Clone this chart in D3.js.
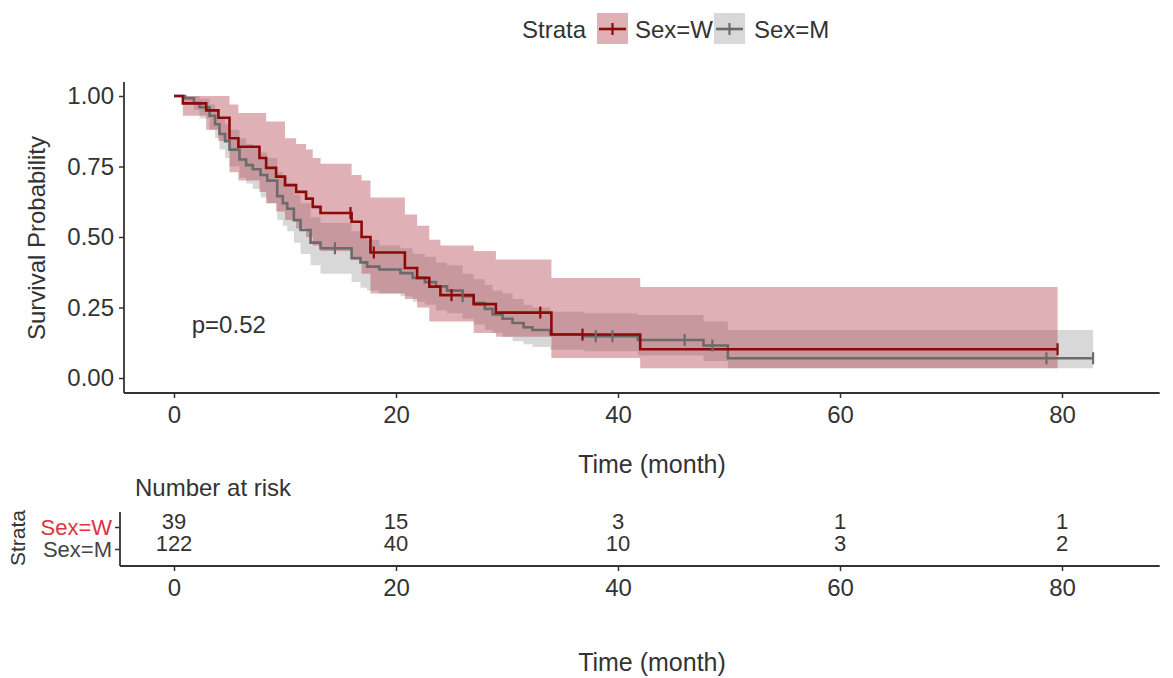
<!DOCTYPE html>
<html>
<head>
<meta charset="utf-8">
<script src="https://cdn.jsdelivr.net/npm/d3@7"></script>
<style>
  body { margin: 0; background: #fff; }
  svg { font-family: "Liberation Sans", Arial, sans-serif; }
</style>
</head>
<body>
<svg></svg>
<script>
// survival curve for Sex=W (time in months, probability after the step)
let wTime  = [0, 0.8, 2.9, 4.0, 5.0, 5.8, 7.7, 8.3, 9.2, 10.0, 11.0, 11.9, 12.5, 13.2, 16.0, 16.9, 17.7, 20.8, 21.9, 23.0, 24.0, 27.0, 29.0, 34.0, 42.0, 79.6];
let wSurv  = [1.00, 0.974, 0.949, 0.923, 0.85, 0.82, 0.78, 0.745, 0.714, 0.684, 0.66, 0.636, 0.607, 0.585, 0.554, 0.50, 0.445, 0.39, 0.355, 0.324, 0.294, 0.262, 0.232, 0.154, 0.102, 0.102];
let wUpper = [1.00, 1.00, 1.00, 1.00, 0.97, 0.94, 0.94, 0.91, 0.91, 0.85, 0.83, 0.81, 0.78, 0.76, 0.72, 0.70, 0.64, 0.58, 0.54, 0.49, 0.47, 0.45, 0.42, 0.355, 0.323, 0.323];
let wLower = [1.00, 0.93, 0.88, 0.84, 0.73, 0.70, 0.66, 0.62, 0.59, 0.56, 0.53, 0.50, 0.47, 0.45, 0.42, 0.37, 0.30, 0.28, 0.25, 0.20, 0.20, 0.16, 0.146, 0.071, 0.035, 0.035];
let wCensor = [15.9, 18.0, 25.0, 33.0, 36.8, 79.6];

// survival curve for Sex=M
let mTime  = [0, 1.0, 1.8, 2.3, 3.2, 3.7, 4.1, 4.6, 5.0, 5.9, 6.5, 7.1, 7.8, 8.4, 9.3, 9.8, 10.2, 10.8, 11.4, 12.3, 13.2, 16.0, 16.8, 17.4, 18.5, 20.4, 21.5, 22.6, 23.6, 24.6, 26.0, 27.0, 28.0, 28.7, 29.6, 30.5, 31.5, 32.3, 33.9, 37.0, 41.8, 47.7, 49.9, 82.8];
let mSurv  = [1.0, 0.992, 0.975, 0.96, 0.93, 0.90, 0.865, 0.84, 0.81, 0.775, 0.755, 0.74, 0.72, 0.70, 0.645, 0.62, 0.60, 0.56, 0.525, 0.48, 0.46, 0.425, 0.41, 0.395, 0.385, 0.372, 0.355, 0.34, 0.325, 0.31, 0.29, 0.266, 0.245, 0.225, 0.21, 0.195, 0.18, 0.17, 0.155, 0.148, 0.135, 0.115, 0.07, 0.07];
let mUpper = [1.0, 1.0, 1.0, 0.99, 0.97, 0.95, 0.92, 0.90, 0.88, 0.85, 0.83, 0.82, 0.80, 0.78, 0.73, 0.71, 0.69, 0.65, 0.62, 0.57, 0.55, 0.52, 0.50, 0.49, 0.47, 0.46, 0.44, 0.43, 0.41, 0.40, 0.37, 0.35, 0.33, 0.31, 0.30, 0.28, 0.26, 0.25, 0.235, 0.23, 0.223, 0.20, 0.17, 0.17];
let mLower = [1.0, 0.975, 0.95, 0.92, 0.88, 0.85, 0.81, 0.78, 0.75, 0.71, 0.69, 0.67, 0.64, 0.62, 0.56, 0.54, 0.52, 0.48, 0.44, 0.40, 0.37, 0.34, 0.32, 0.31, 0.30, 0.29, 0.27, 0.26, 0.24, 0.23, 0.21, 0.19, 0.17, 0.16, 0.145, 0.13, 0.12, 0.11, 0.10, 0.095, 0.08, 0.06, 0.035, 0.035];
let mCensor = [14.5, 26.0, 38.0, 39.5, 46.0, 48.5, 78.6, 82.8];

// number at risk table
let riskTimes = [0, 20, 40, 60, 80];
let riskW = [39, 15, 3, 1, 1];
let riskM = [122, 40, 10, 3, 2];

let strataNames = ['Sex=W', 'Sex=M'];
let yTicks = [0, 0.25, 0.5, 0.75, 1];
let xTicks = [0, 20, 40, 60, 80];

let width = 1173;
let height = 678;

let redLine = '#8b0a0a';
let greyLine = '#6b6b6b';
let redFill = '#b03a45';
let greyFill = '#a8a8a8';
let inkColor = '#333';
let fontSize = 24;
let titleSize = 25;
let riskSize = 22;

let svg = d3.select('svg')
            .attr('width', width)
            .attr('height', height);

// scales
let xScale = d3.scaleLinear().domain([0, 80]).range([174, 1062]);
let yScale = d3.scaleLinear().domain([0, 1]).range([378, 96]);
let panelLeft = xScale(-4.5);
let panelRight = xScale(88.8);

let toPoints = (times, surv, up, lo) => times.map((t, i) => ({t: t, s: surv[i], u: up[i], l: lo[i]}));

let wData = toPoints(wTime, wSurv, wUpper, wLower);
let mData = toPoints(mTime, mSurv, mUpper, mLower);

let survAt = (times, surv, t) => {
    let i = d3.bisectRight(times, t) - 1;
    return surv[Math.max(0, i)];
}

let styleTicks = (g, size) => {
    g.select('.domain').remove();
    g.selectAll('.tick line').attr('stroke', inkColor).attr('stroke-width', 1.5);
    g.selectAll('.tick text').attr('fill', inkColor)
        .style('font-size', size + 'px')
        .style('font-family', '"Liberation Sans", Arial, sans-serif');
}

let drawBands = () => {
    let area = d3.area()
                 .curve(d3.curveStepAfter)
                 .x(d => xScale(d.t))
                 .y0(d => yScale(d.l))
                 .y1(d => yScale(d.u));

    svg.append('path').datum(mData)
        .attr('d', area)
        .attr('fill', greyFill)
        .attr('opacity', 0.45);

    svg.append('path').datum(wData)
        .attr('d', area)
        .attr('fill', redFill)
        .attr('opacity', 0.4);
}

let drawCurves = () => {
    let line = d3.line()
                 .curve(d3.curveStepAfter)
                 .x(d => xScale(d.t))
                 .y(d => yScale(d.s));

    svg.append('path').datum(mData)
        .attr('d', line)
        .attr('fill', 'none')
        .attr('stroke', greyLine)
        .attr('stroke-width', 2.6);

    svg.append('path').datum(wData)
        .attr('d', line)
        .attr('fill', 'none')
        .attr('stroke', redLine)
        .attr('stroke-width', 2.6);

    let censor = (list, times, surv, color) => {
        svg.append('g').selectAll('line')
            .data(list)
            .enter()
            .append('line')
            .attr('x1', d => xScale(d))
            .attr('x2', d => xScale(d))
            .attr('y1', d => yScale(survAt(times, surv, d)) - 6)
            .attr('y2', d => yScale(survAt(times, surv, d)) + 6)
            .attr('stroke', color)
            .attr('stroke-width', 2.2);
    }
    censor(mCensor, mTime, mSurv, greyLine);
    censor(wCensor, wTime, wSurv, redLine);
}

let drawAxes = () => {
    let xAxis = d3.axisBottom(xScale).tickValues(xTicks).tickSize(5).tickPadding(8);
    let yAxis = d3.axisLeft(yScale).tickValues(yTicks).tickSize(5).tickPadding(5)
                  .tickFormat(d3.format('.2f'));

    let gx = svg.append('g')
        .attr('transform', 'translate(0,393)')
        .call(xAxis);
    let gy = svg.append('g')
        .attr('transform', 'translate(124,0)')
        .call(yAxis);

    styleTicks(gx, fontSize);
    styleTicks(gy, fontSize);

    svg.append('line')
        .attr('x1', panelLeft).attr('x2', panelRight)
        .attr('y1', 393).attr('y2', 393)
        .attr('stroke', inkColor).attr('stroke-width', 1.8);
    svg.append('line')
        .attr('x1', 124).attr('x2', 124)
        .attr('y1', 82).attr('y2', 393)
        .attr('stroke', inkColor).attr('stroke-width', 1.8);

    svg.append('text')
        .attr('x', 652).attr('y', 473)
        .attr('text-anchor', 'middle')
        .attr('fill', inkColor)
        .style('font-size', titleSize + 'px')
        .text('Time (month)');

    svg.append('text')
        .attr('transform', 'translate(45,238) rotate(-90)')
        .attr('text-anchor', 'middle')
        .attr('fill', inkColor)
        .style('font-size', fontSize + 'px')
        .text('Survival Probability');

    svg.append('text')
        .attr('x', xScale(1.6)).attr('y', 333)
        .attr('fill', inkColor)
        .style('font-size', fontSize + 'px')
        .text('p=0.52');
}

let drawLegend = () => {
    let legend = svg.append('g').attr('id', 'legend');

    legend.append('text')
        .attr('x', 522).attr('y', 38)
        .attr('fill', inkColor)
        .style('font-size', fontSize + 'px')
        .text('Strata');

    let keys = [
        {name: strataNames[0], x: 597, fill: redFill, fillOp: 0.4, stroke: redLine, tx: 635},
        {name: strataNames[1], x: 714, fill: greyFill, fillOp: 0.45, stroke: greyLine, tx: 754}
    ];

    keys.forEach(k => {
        legend.append('rect')
            .attr('x', k.x).attr('y', 13)
            .attr('width', 31).attr('height', 31)
            .attr('fill', k.fill).attr('opacity', k.fillOp);
        legend.append('line')
            .attr('x1', k.x + 2).attr('x2', k.x + 29)
            .attr('y1', 29).attr('y2', 29)
            .attr('stroke', k.stroke).attr('stroke-width', 2.6);
        legend.append('line')
            .attr('x1', k.x + 15.5).attr('x2', k.x + 15.5)
            .attr('y1', 23).attr('y2', 35)
            .attr('stroke', k.stroke).attr('stroke-width', 2.2);
        legend.append('text')
            .attr('x', k.tx).attr('y', 38)
            .attr('fill', inkColor)
            .style('font-size', fontSize + 'px')
            .text(k.name);
    });
}

let drawRiskTable = () => {
    let rowY = d3.scalePoint().domain(strataNames).range([527, 549]);

    svg.append('text')
        .attr('x', 135).attr('y', 496)
        .attr('fill', inkColor)
        .style('font-size', fontSize + 'px')
        .text('Number at risk');

    let rows = [
        {name: strataNames[0], values: riskW},
        {name: strataNames[1], values: riskM}
    ];

    rows.forEach(r => {
        svg.append('g').selectAll('text')
            .data(r.values)
            .enter()
            .append('text')
            .attr('x', (d, i) => xScale(riskTimes[i]))
            .attr('y', rowY(r.name) - 6)
            .attr('dy', '0.35em')
            .attr('text-anchor', 'middle')
            .attr('fill', inkColor)
            .style('font-size', riskSize + 'px')
            .text(d => d);
    });

    let yAxis = d3.axisLeft(rowY).tickSize(5).tickPadding(3);
    let gy = svg.append('g')
        .attr('transform', 'translate(120,0)')
        .call(yAxis);
    styleTicks(gy, 22);
    gy.selectAll('.tick text')
        .attr('fill', (d, i) => i === 0 ? '#e0313f' : '#444');

    svg.append('line')
        .attr('x1', 120).attr('x2', 120)
        .attr('y1', 512).attr('y2', 566)
        .attr('stroke', inkColor).attr('stroke-width', 1.8);

    let xAxis = d3.axisBottom(xScale).tickValues(xTicks).tickSize(5).tickPadding(8);
    let gx = svg.append('g')
        .attr('transform', 'translate(0,566)')
        .call(xAxis);
    styleTicks(gx, fontSize);

    svg.append('line')
        .attr('x1', 120).attr('x2', panelRight)
        .attr('y1', 566).attr('y2', 566)
        .attr('stroke', inkColor).attr('stroke-width', 1.8);

    svg.append('text')
        .attr('x', 652).attr('y', 671)
        .attr('text-anchor', 'middle')
        .attr('fill', inkColor)
        .style('font-size', titleSize + 'px')
        .text('Time (month)');

    svg.append('text')
        .attr('transform', 'translate(25,538) rotate(-90)')
        .attr('text-anchor', 'middle')
        .attr('fill', inkColor)
        .style('font-size', '21px')
        .text('Strata');
}

drawBands()
drawCurves()
drawAxes()
drawLegend()
drawRiskTable()
</script>
</body>
</html>
